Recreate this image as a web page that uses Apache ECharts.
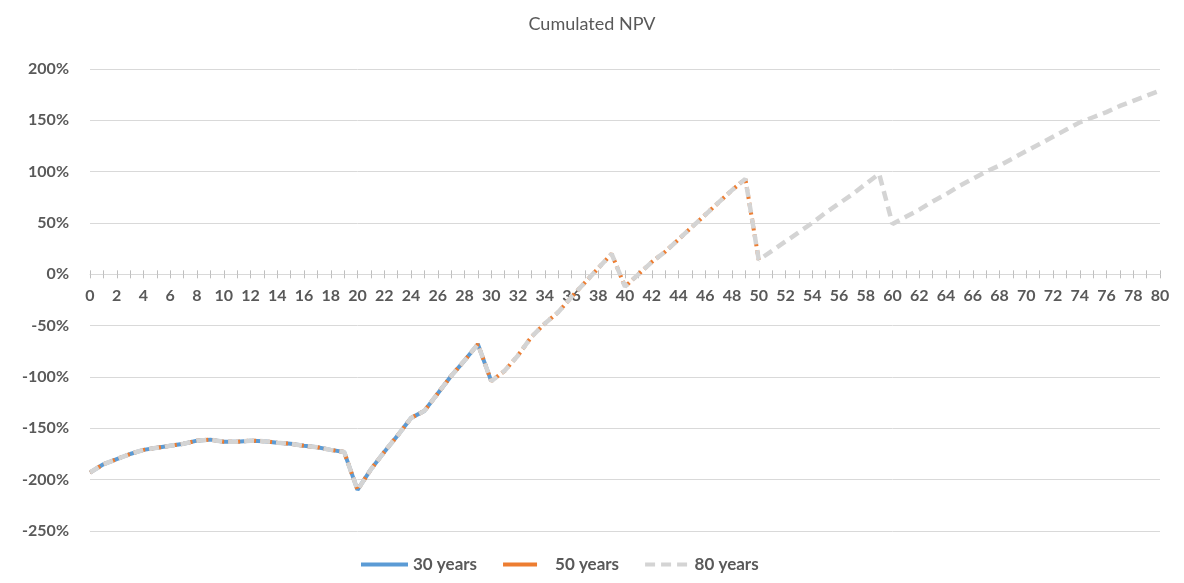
<!DOCTYPE html>
<html>
<head>
  <meta charset="utf-8">
  <script src="https://cdn.jsdelivr.net/npm/echarts@6.0.0/dist/echarts.min.js"></script>
  <style>
    body { margin: 0; padding: 0; background: #fff; }
    #chart { width: 1184px; height: 583px; }
  </style>
</head>
<body>
  <div id="chart"></div>
  <script>
    // years 0..80
    const years = Array.from({ length: 81 }, (_, i) => String(i));

    // cumulated NPV in %
    const npv = [
      -193, -185, -180, -175, -171, -169, -167, -165, -162, -161,
      -163, -163, -162, -162.5, -164, -165, -167, -168.5, -171, -173,
      -210, -190, -173, -157, -140, -133, -116, -99, -84, -68,
      -104, -94, -79, -61, -48, -37, -22, -8, 6, 20,
      -12, 0, 12, 22, 34, 46, 58, 70, 82, 93,
      14, 23, 32, 41, 50, 60, 69, 78, 88, 98,
      49, 56, 63, 71, 78, 86, 93, 100, 106, 113,
      120, 127, 134, 141, 148, 153, 158, 164, 169, 174,
      179
    ];

    const npv30 = npv.slice(0, 31);
    const npv50 = npv.slice(0, 51);
    const npv80 = npv.slice(0, 81);

    const yMin = -250, yMax = 200, yStep = 50;

    const textColor = '#595959';
    const font = 'Lato';
    const grid = { left: 90, right: 24, top: 69, bottom: 52 };

    // move the category axis up to the 0% line (labels follow it, like Excel)
    const plotH = 583 - grid.top - grid.bottom;
    const zeroOffset = -plotH * (0 - yMin) / (yMax - yMin);

    const labelStyle = { fontSize: 16, fontWeight: 'bold', color: textColor, fontFamily: font };

    const option = {
      animation: false,
      title: {
        text: 'Cumulated NPV',
        left: 'center',
        top: 10,
        textStyle: { fontSize: 18, fontWeight: 'normal', color: textColor, fontFamily: font }
      },
      legend: {
        top: 551,
        left: 356,
        itemWidth: 47,
        itemHeight: 4,
        itemGap: 26,
        itemStyle: { borderWidth: 0 },
        textStyle: Object.assign({}, labelStyle, { fontSize: 17 }),
        data: [
          { name: '30 years', icon: 'rect' },
          { name: '50 years', icon: 'path://M0,0H34V4H0Z M47,2L47,2.01' },
          { name: '80 years', icon: 'path://M0,0H10V4H0Z M16,0H26V4H16Z M32,0H42V4H32Z' }
        ]
      },
      grid: grid,
      xAxis: [
        {
          type: 'category',
          data: years,
          boundaryGap: false,
          position: 'bottom',
          offset: zeroOffset,
          axisLine: { onZero: false, lineStyle: { color: '#D9D9D9', width: 1 } },
          axisTick: { show: true, interval: 0, length: 4, lineStyle: { color: '#BFBFBF' } },
          axisLabel: Object.assign({ interval: 1, margin: 14 }, labelStyle),
          splitLine: { show: false }
        },
        {
          type: 'category',
          data: years,
          boundaryGap: false,
          position: 'bottom',
          offset: zeroOffset,
          axisLine: { show: false, onZero: false },
          axisTick: { show: true, inside: true, interval: 0, length: 4, lineStyle: { color: '#BFBFBF' } },
          axisLabel: { show: false },
          splitLine: { show: false }
        }
      ],
      yAxis: {
        type: 'value',
        min: yMin,
        max: yMax,
        interval: yStep,
        axisLine: { show: false },
        axisTick: { show: false },
        axisLabel: Object.assign({ formatter: '{value}%', margin: 21 }, labelStyle),
        splitLine: { lineStyle: { color: '#D9D9D9', width: 1 } }
      },
      series: [
        {
          name: '30 years',
          type: 'line',
          data: npv30,
          symbol: 'none',
          z: 1,
          lineStyle: { color: '#5B9BD5', width: 4 },
          itemStyle: { color: '#5B9BD5' }
        },
        {
          name: '50 years',
          type: 'line',
          data: npv50,
          symbol: 'none',
          z: 2,
          lineStyle: { color: '#ED7D31', width: 4, type: [4, 4], cap: 'butt' },
          itemStyle: { color: '#ED7D31' }
        },
        {
          name: '80 years',
          type: 'line',
          data: npv80,
          symbol: 'none',
          z: 3,
          lineStyle: { color: '#D4D4D4', width: 4.5, type: [10, 6], cap: 'butt' },
          itemStyle: { color: '#D4D4D4' }
        }
      ]
    };

    const chart = echarts.init(document.getElementById('chart'));
    chart.setOption(option);
  </script>
</body>
</html>
